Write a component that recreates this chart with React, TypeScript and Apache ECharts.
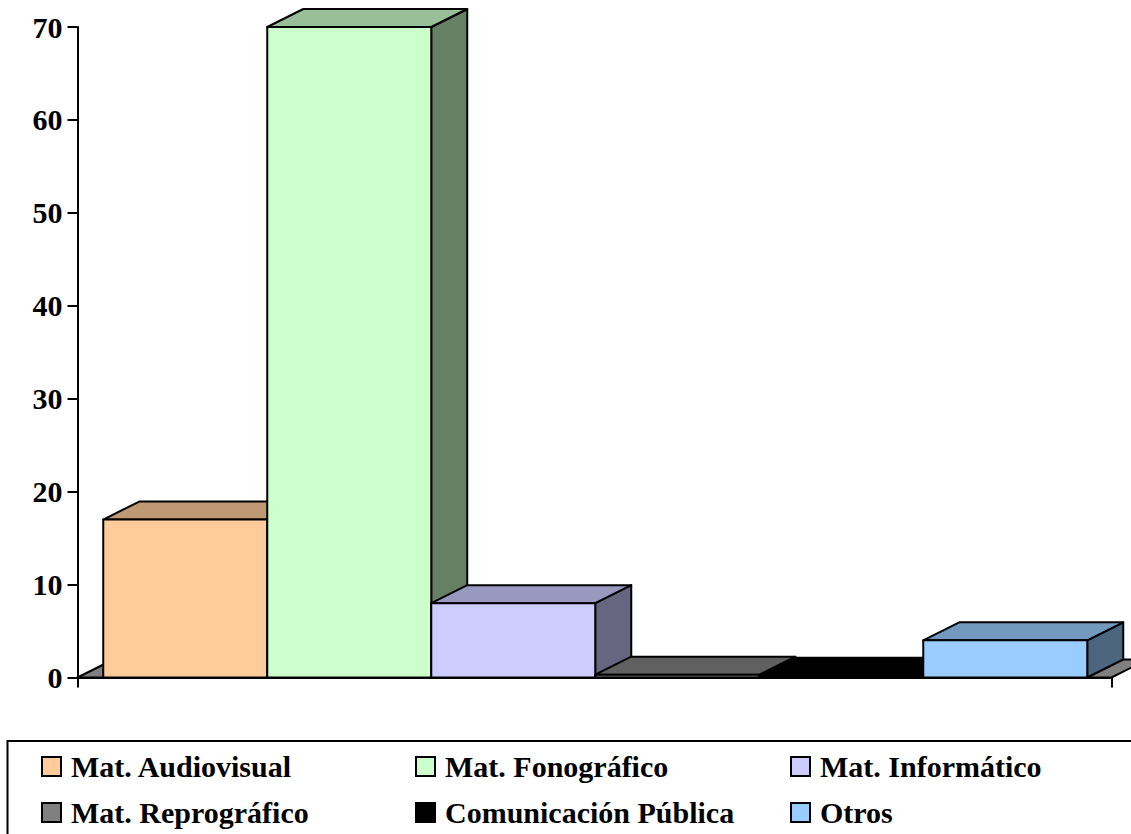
import React, { useEffect, useRef } from "react";
import * as echarts from "echarts";

const categoryLabel = ["Materiales"];
const seriesNames = [
  "Mat. Audiovisual",
  "Mat. Fonográfico",
  "Mat. Informático",
  "Mat. Reprográfico",
  "Comunicación Pública",
  "Otros",
];
const seriesValues = [17, 70, 8, 0.3, 0.2, 4];
const frontColors = ["#FFCC99", "#CCFFCC", "#CCCCFF", "#808080", "#000000", "#99CCFF"];
const topColors = ["#BF9973", "#99BF99", "#9999BF", "#606060", "#000000", "#7399BF"];
const sideColors = ["#806640", "#668066", "#666680", "#404040", "#000000", "#4D6680"];
const legendColumns = [
  ["Mat. Audiovisual", "Mat. Reprográfico"],
  ["Mat. Fonográfico", "Comunicación Pública"],
  ["Mat. Informático", "Otros"],
];
const legendLefts = [41, 415, 790];

const FONT = "'Liberation Serif', 'Times New Roman', serif";
const DX = 36;
const DY = 18;
const BAR_FRACTION = 164 / 1034;
const LINE = { stroke: "#000", lineWidth: 2, lineJoin: "round" as const };

const floorSeries = {
  type: "custom",
  name: "floor",
  silent: true,
  z: 1,
  data: [[0, 0]],
  renderItem: (params: any, api: any) => {
    const cs = params.coordSys;
    const y0 = api.coord([0, 0])[1];
    const left = cs.x;
    const right = cs.x + cs.width;
    return {
      type: "polygon",
      shape: { points: [[left, y0], [left + DX, y0 - DY], [right + DX, y0 - DY], [right, y0]] },
      style: { fill: "#808080", ...LINE },
    };
  },
};

const barSeries = seriesNames.map((name, i) => ({
  type: "custom",
  name,
  z: 2,
  itemStyle: { color: frontColors[i] },
  data: [[0, seriesValues[i]]],
  renderItem: (_params: any, api: any) => {
    const band = api.size([1, 0])[0];
    const w = band * BAR_FRACTION;
    const top = api.coord([api.value(0), api.value(1)]);
    const base = api.coord([api.value(0), 0]);
    const x0 = top[0] + (i - 3) * w + 0.75;
    const x1 = x0 + w;
    const yT = top[1];
    const yB = base[1];
    return {
      type: "group",
      children: [
        {
          type: "polygon",
          shape: { points: [[x1, yT], [x1 + DX, yT - DY], [x1 + DX, yB - DY], [x1, yB]] },
          style: { fill: sideColors[i], ...LINE },
        },
        {
          type: "polygon",
          shape: { points: [[x0, yT], [x0 + DX, yT - DY], [x1 + DX, yT - DY], [x1, yT]] },
          style: { fill: topColors[i], ...LINE },
        },
        {
          type: "rect",
          shape: { x: x0, y: yT, width: w, height: yB - yT },
          style: { fill: frontColors[i], ...LINE },
        },
      ],
    };
  },
}));

export default function App() {
  const ref = useRef<HTMLDivElement>(null);
  useEffect(() => {
    const chart = echarts.init(ref.current!, undefined, { renderer: "svg" });
    chart.setOption({
      animation: false,
      backgroundColor: "#fff",
      grid: { left: 77.5, top: 27, width: 1034, height: 650.5, containLabel: false },
      xAxis: {
        type: "category",
        data: categoryLabel,
        axisLine: { show: true, onZero: false, lineStyle: { color: "#000", width: 2 } },
        axisTick: { show: true, length: 10, alignWithLabel: false, lineStyle: { color: "#000", width: 2 } },
        axisLabel: { show: false },
        splitLine: { show: false },
        z: 5,
      },
      yAxis: {
        type: "value",
        min: 0,
        max: 70,
        interval: 10,
        axisLine: { show: true, lineStyle: { color: "#000", width: 2 } },
        axisTick: { show: true, length: 10, lineStyle: { color: "#000", width: 2 } },
        axisLabel: { color: "#000", fontFamily: FONT, fontWeight: "bold", fontSize: 30, margin: 15 },
        splitLine: { show: false },
      },
      legend: legendColumns.map((data, c) => ({
        data,
        orient: "vertical",
        left: legendLefts[c],
        top: 751.5,
        width: 330,
        height: 200,
        padding: 0,
        itemWidth: 19,
        itemHeight: 19,
        itemGap: 16,
        icon: "rect",
        selectedMode: false,
        itemStyle: { borderColor: "#000", borderWidth: 2 },
        textStyle: { color: "#000", fontFamily: FONT, fontWeight: "bold", fontSize: 30, lineHeight: 30, padding: [0, 0, 0, 5] },
      })),
      graphic: [
        {
          type: "rect",
          silent: true,
          shape: { x: 7.5, y: 741, width: 1300, height: 200 },
          style: { fill: "none", stroke: "#000", lineWidth: 2 },
        },
      ],
      series: [floorSeries, ...barSeries],
    });
    return () => chart.dispose();
  }, []);
  return <div ref={ref} style={{ position: "fixed", left: 0, top: 0, width: 1131, height: 834 }} />;
}
